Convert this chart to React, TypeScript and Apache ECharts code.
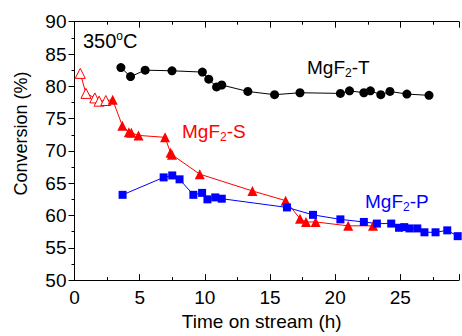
import React, { useEffect, useRef } from "react";
import * as echarts from "echarts";

const tX = [3.56, 4.3, 5.42, 7.48, 9.81, 10.3, 10.9, 11.3, 13.3, 15.35, 17.3, 20.4, 21.1, 22.2, 22.7, 23.5, 24.2, 25.5, 27.2];
const tY = [82.9, 81.5, 82.5, 82.4, 82.2, 81.1, 79.9, 80.2, 79.2, 78.7, 79.0, 78.9, 79.3, 79.0, 79.3, 78.7, 79.2, 78.8, 78.6];

const sX = [0.44, 0.88, 1.56, 1.89, 2.4, 2.93, 3.67, 4.17, 4.36, 4.91, 6.95, 7.37, 7.48, 9.61, 13.65, 16.2, 17.3, 17.76, 18.5, 21.0, 22.9];
const sY = [82.0, 78.9, 78.2, 77.7, 77.8, 77.9, 73.9, 72.9, 72.8, 72.4, 72.1, 69.7, 69.4, 66.4, 63.8, 62.3, 59.5, 59.0, 59.0, 58.4, 58.4];
const sOpenCount = 5;

const pX = [3.69, 6.84, 7.5, 8.06, 9.12, 9.79, 10.2, 10.8, 11.3, 16.3, 18.3, 20.4, 22.2, 23.2, 24.3, 24.9, 25.3, 25.7, 26.3, 26.85, 27.7, 28.6, 29.4];
const pY = [63.2, 65.9, 66.2, 65.6, 63.2, 63.5, 62.5, 62.8, 62.6, 61.25, 60.1, 59.4, 59.0, 58.75, 58.75, 58.1, 58.2, 58.0, 58.0, 57.4, 57.4, 57.7, 56.8];

const xTicks = [0, 5, 10, 15, 20, 25];
const yTicks = [50, 55, 60, 65, 70, 75, 80, 85, 90];

const FONT = "Liberation Sans, Arial, sans-serif";

export default function App() {
  const ref = useRef<HTMLDivElement>(null);
  useEffect(() => {
    const chart = echarts.init(ref.current!, null, { renderer: "svg" });
    const zip = (xs: number[], ys: number[]) => xs.map((x, i) => [x, ys[i]]);
    const sData = zip(sX, sY).map((d, i) =>
      i < sOpenCount
        ? { value: d, itemStyle: { color: "#ffffff", borderColor: "#ff0000", borderWidth: 1 } }
        : { value: d }
    );
    const labelRich = (color: string) => ({
      a: { fontSize: 19, fontFamily: FONT, fill: color },
      b: { fontSize: 12, fontFamily: FONT, fill: color, padding: [10, 0, 0, 0] },
    });
    chart.setOption({
      animation: false,
      backgroundColor: "#ffffff",
      grid: { left: 74.5, right: 0, top: 21.7, bottom: 52 },
      xAxis: [
        {
          type: "value",
          min: 0,
          max: 29.5,
          interval: 5,
          axisLine: { lineStyle: { color: "#000", width: 1 } },
          axisTick: { inside: true, length: 6, lineStyle: { color: "#000" } },
          minorTick: { show: true, splitNumber: 2, length: 3, lineStyle: { color: "#000" } },
          splitLine: { show: false },
          axisLabel: {
            color: "#000",
            fontSize: 19,
            fontFamily: FONT,
            margin: 8,
            formatter: (v: number) => (xTicks.includes(v) ? String(v) : ""),
          },
          name: "Time on stream (h)",
          nameLocation: "middle",
          nameGap: 31,
          nameTextStyle: { color: "#000", fontSize: 19, fontFamily: FONT, padding: [0, 10, 0, 0] },
        },
        {
          type: "value",
          position: "top",
          min: 0,
          max: 29.5,
          interval: 5,
          axisLine: { show: true, lineStyle: { color: "#000", width: 1 } },
          axisTick: { show: true, inside: true, length: 6, lineStyle: { color: "#000" } },
          minorTick: { show: true, splitNumber: 2, length: 3, lineStyle: { color: "#000" } },
          axisLabel: { show: false },
          splitLine: { show: false },
        },
      ],
      yAxis: {
        type: "value",
        min: 50,
        max: 90,
        interval: 5,
        axisLine: { show: true, lineStyle: { color: "#000", width: 1 } },
        axisTick: { inside: false, length: 6, lineStyle: { color: "#000" } },
        minorTick: { show: true, splitNumber: 2, length: 3, lineStyle: { color: "#000" } },
        splitLine: { show: false },
        axisLabel: {
          color: "#000",
          fontSize: 19,
          fontFamily: FONT,
          margin: 8,
          formatter: (v: number) => (yTicks.includes(v) ? String(v) : ""),
        },
      },
      series: [
        {
          type: "line",
          data: zip(tX, tY),
          symbol: "circle",
          symbolSize: 9,
          itemStyle: { color: "#000" },
          lineStyle: { color: "#000", width: 1 },
        },
        {
          type: "line",
          data: sData,
          symbol: "triangle",
          symbolSize: 10,
          itemStyle: { color: "#ff0000" },
          lineStyle: { color: "#ff0000", width: 1 },
        },
        {
          type: "line",
          data: zip(pX, pY),
          symbol: "rect",
          symbolSize: 8,
          itemStyle: { color: "#0000ff" },
          lineStyle: { color: "#0000ff", width: 1 },
        },
      ],
      graphic: [
        {
          type: "text",
          x: 21,
          y: 133.5,
          rotation: Math.PI / 2,
          style: {
            text: "Conversion (%)",
            fontSize: 18,
            fontFamily: FONT,
            fill: "#000",
            align: "center",
            verticalAlign: "middle",
          },
        },
        {
          type: "text",
          left: 83,
          top: 30,
          style: {
            text: "{a|350}{s|o}{a|C}",
            rich: {
              a: { fontSize: 20, fontFamily: FONT, fill: "#000" },
              s: { fontSize: 12, fontFamily: FONT, fill: "#000", padding: [0, 0, 10, 0] },
            },
          },
        },
        {
          type: "text",
          left: 307,
          top: 58,
          style: { text: "{a|MgF}{b|2}{a|-T}", rich: labelRich("#000") },
        },
        {
          type: "text",
          left: 182,
          top: 122,
          style: { text: "{a|MgF}{b|2}{a|-S}", rich: labelRich("#ff0000") },
        },
        {
          type: "text",
          left: 365,
          top: 192,
          style: { text: "{a|MgF}{b|2}{a|-P}", rich: labelRich("#0000ff") },
        },
      ],
    });
    return () => chart.dispose();
  }, []);
  return <div ref={ref} style={{ position: "fixed", left: 0, top: 0, width: 462, height: 336 }} />;
}
